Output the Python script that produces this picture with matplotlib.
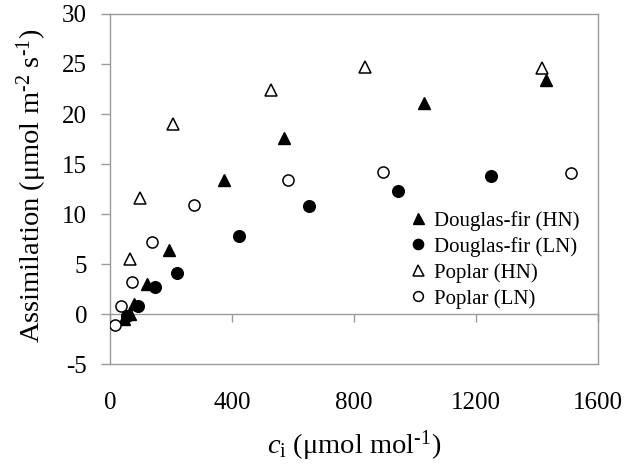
import matplotlib
matplotlib.use("Agg")
import matplotlib.pyplot as plt

plt.rcParams["font.family"] = ["Liberation Serif", "DejaVu Serif"]
plt.rcParams["mathtext.fontset"] = "custom"
plt.rcParams["mathtext.rm"] = "Liberation Serif"
plt.rcParams["mathtext.it"] = "Liberation Serif:italic"
plt.rcParams["axes.unicode_minus"] = False

# Intercellular CO2 (umol mol-1) and net assimilation (umol m-2 s-1)
df_hn_ci = [45, 65, 80, 120, 194, 375, 571, 1031, 1428]
df_hn_a = [-0.5, 0.0, 1.0, 3.0, 6.4, 13.4, 17.6, 21.1, 23.4]

df_ln_ci = [55, 92, 148, 221, 424, 651, 943, 1249]
df_ln_a = [-0.2, 0.8, 2.7, 4.1, 7.8, 10.8, 12.3, 13.8]

pop_hn_ci = [66, 99, 208, 528, 835, 1415]
pop_hn_a = [5.5, 11.6, 19.0, 22.4, 24.7, 24.6]

pop_ln_ci = [16, 37, 72, 139, 277, 583, 895, 1512]
pop_ln_a = [-1.1, 0.8, 3.2, 7.2, 10.9, 13.4, 14.2, 14.1]

labels = ["Douglas-fir (HN)", "Douglas-fir (LN)", "Poplar (HN)", "Poplar (LN)"]
x_ticks = [0, 400, 800, 1200, 1600]
y_ticks = [-5, 0, 5, 10, 15, 20, 25, 30]

gray = "#9a9a9a"

fig = plt.figure(figsize=(6.26, 4.65), dpi=100)
ax = fig.add_axes([110 / 626, 1 - 364 / 465, 488 / 626, 350 / 465])

ax.plot(df_hn_ci, df_hn_a, ls="none", marker="^", ms=9, color="black", label=labels[0], zorder=3)
ax.plot(df_ln_ci, df_ln_a, ls="none", marker="o", ms=8.4, color="black", label=labels[1], zorder=3)
ax.plot(pop_hn_ci, pop_hn_a, ls="none", marker="^", ms=9, mfc="white", mec="black",
        mew=1.1, label=labels[2], zorder=3)
ax.plot(pop_ln_ci, pop_ln_a, ls="none", marker="o", ms=8.0, mfc="white", mec="black",
        mew=1.1, label=labels[3], zorder=3)

ax.set_xlim(x_ticks[0], x_ticks[-1])
ax.set_ylim(y_ticks[0], y_ticks[-1])
ax.set_xticks(x_ticks)
ax.set_yticks(y_ticks)

for sp in ax.spines.values():
    sp.set_color(gray)
    sp.set_linewidth(1.0)

ax.tick_params(axis="x", length=0, pad=20, labelsize=18)
ax.tick_params(axis="y", direction="out", length=6.5, width=1.0, color=gray, pad=10, labelsize=18)

# Zero line carrying the x tick marks
zero_frac = (0 - y_ticks[0]) / (y_ticks[-1] - y_ticks[0])
sec = ax.secondary_xaxis(zero_frac)
sec.set_xticks(x_ticks)
sec.tick_params(direction="out", length=5.8, width=1.0, color=gray, labelbottom=False)
sec.spines["bottom"].set_color(gray)
sec.spines["bottom"].set_linewidth(1.0)

ax.set_xlabel(r"$c_{\mathrm{i}}$ ($\mathrm{\mu}$mol mol$^{\text{-1}}$)", fontsize=20.5)
ax.set_ylabel(r"Assimilation ($\mathrm{\mu}$mol m$^{\text{-2}}$ s$^{\text{-1}}$)", fontsize=20.5)
ax.xaxis.set_label_coords(0.5, -0.183)
ax.yaxis.set_label_coords(-0.124, 0.51)

ax.legend(loc="upper left", bbox_to_anchor=(0.615, 0.438), frameon=False, fontsize=15,
          handlelength=0.8, handletextpad=0.35, labelspacing=0.3, borderpad=0,
          borderaxespad=0, markerscale=0.88)

fig.savefig("out.png", dpi=100)
